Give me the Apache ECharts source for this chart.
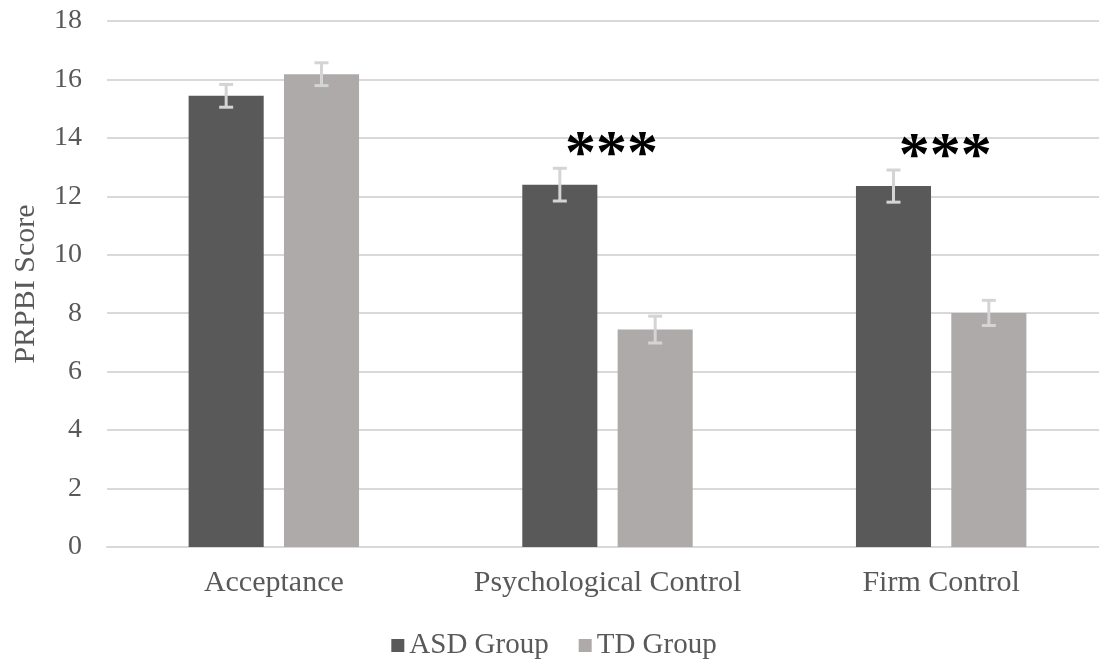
<!DOCTYPE html>
<html>
<head>
<meta charset="utf-8">
<title>PRPBI Score by Group</title>
<script src="https://cdn.jsdelivr.net/npm/echarts@6/dist/echarts.min.js"></script>
<style>
  html, body { margin: 0; padding: 0; background: #ffffff; overflow: hidden; }
  /* the plot runs slightly past the right edge of the page */
  #chart { width: 1108px; height: 663px; }
</style>
</head>
<body>
<div id="chart"></div>
<script>
// Subscale categories
const categories = ['Acceptance', 'Psychological Control', 'Firm Control'];
// Group means
const asdMeans = [15.44, 12.40, 12.35];
const tdMeans = [16.18, 7.44, 8.01];
// Standard errors
const asdErr = [0.39, 0.56, 0.55];
const tdErr = [0.39, 0.46, 0.43];
// Significance markers per category
const significance = ['', '***', '***'];
// Y-axis ticks
const yTicks = [0, 2, 4, 6, 8, 10, 12, 14, 16, 18];

const FONT = '"Liberation Serif", "Times New Roman", serif';
const ASD_COLOR = '#595959';
const TD_COLOR = '#aeaaaa';
const ERR_COLOR = '#d4d4d4';

const chart = echarts.init(document.getElementById('chart'));

// Error bar renderer: one whisker with caps, shifted onto its bar within the group
function errorBarRenderer(means, errs, seriesIndex) {
  return function (params, api) {
    const i = api.value(0);
    const m = means[i], e = errs[i];
    const bandW = api.size([1, 0])[0];
    const barW = bandW * 0.225;
    const gap = barW * 0.27;
    const offset = seriesIndex === 0 ? -(gap / 2 + barW / 2) : (gap / 2 + barW / 2);
    const top = api.coord([i, m + e]);
    const bot = api.coord([i, m - e]);
    const x = top[0] + offset;
    const capHalf = 7;
    const style = { stroke: ERR_COLOR, lineWidth: 3, fill: null };
    return {
      type: 'group',
      children: [
        { type: 'line', shape: { x1: x, y1: top[1], x2: x, y2: bot[1] }, style },
        { type: 'line', shape: { x1: x - capHalf, y1: top[1], x2: x + capHalf, y2: top[1] }, style },
        { type: 'line', shape: { x1: x - capHalf, y1: bot[1], x2: x + capHalf, y2: bot[1] }, style }
      ]
    };
  };
}

// Significance marker drawn above the taller whisker of each group
function sigRenderer(params, api) {
  const i = api.value(0);
  const txt = significance[i];
  if (!txt) return null;
  const peak = Math.max(asdMeans[i] + asdErr[i], tdMeans[i] + tdErr[i]);
  const p = api.coord([i, peak]);
  return {
    type: 'text',
    style: {
      x: p[0] + 4,
      y: p[1] - 12,
      text: txt,
      fill: '#000000',
      font: 'bold 62px ' + FONT,
      align: 'center',
      verticalAlign: 'middle'
    }
  };
}

const option = {
  backgroundColor: '#ffffff',
  animation: false,
  grid: { left: 107, right: 0, top: 21, bottom: 116 },
  legend: {
    data: ['ASD Group', 'TD Group'],
    top: 626,
    left: 'center',
    itemWidth: 13,
    itemHeight: 13,
    itemGap: 30,
    icon: 'rect',
    textStyle: { fontFamily: FONT, fontSize: 29, color: '#595959' }
  },
  xAxis: {
    type: 'category',
    data: categories,
    axisLine: { lineStyle: { color: '#d9d9d9', width: 2 } },
    axisTick: { show: false },
    axisLabel: { interval: 0, fontFamily: FONT, fontSize: 30, color: '#595959', margin: 21 }
  },
  yAxis: {
    type: 'value',
    min: yTicks[0],
    max: yTicks[yTicks.length - 1],
    interval: yTicks[1] - yTicks[0],
    name: 'PRPBI Score',
    nameLocation: 'middle',
    nameGap: 66,
    nameTextStyle: { fontFamily: FONT, fontSize: 30, color: '#595959' },
    axisLine: { show: false },
    axisTick: { show: false },
    axisLabel: { fontFamily: FONT, fontSize: 28, color: '#595959', margin: 25 },
    splitLine: { lineStyle: { color: '#d9d9d9', width: 2 } }
  },
  series: [
    {
      name: 'ASD Group',
      type: 'bar',
      data: asdMeans,
      barWidth: '22.5%',
      barGap: '27%',
      itemStyle: { color: ASD_COLOR }
    },
    {
      name: 'TD Group',
      type: 'bar',
      data: tdMeans,
      barWidth: '22.5%',
      barGap: '27%',
      itemStyle: { color: TD_COLOR }
    },
    {
      type: 'custom',
      name: 'ASD error',
      renderItem: errorBarRenderer(asdMeans, asdErr, 0),
      data: categories.map((c, i) => [i]),
      z: 5,
      silent: true
    },
    {
      type: 'custom',
      name: 'TD error',
      renderItem: errorBarRenderer(tdMeans, tdErr, 1),
      data: categories.map((c, i) => [i]),
      z: 5,
      silent: true
    },
    {
      type: 'custom',
      name: 'significance',
      renderItem: sigRenderer,
      data: categories.map((c, i) => [i]),
      z: 6,
      silent: true
    }
  ]
};

chart.setOption(option);
</script>
</body>
</html>
